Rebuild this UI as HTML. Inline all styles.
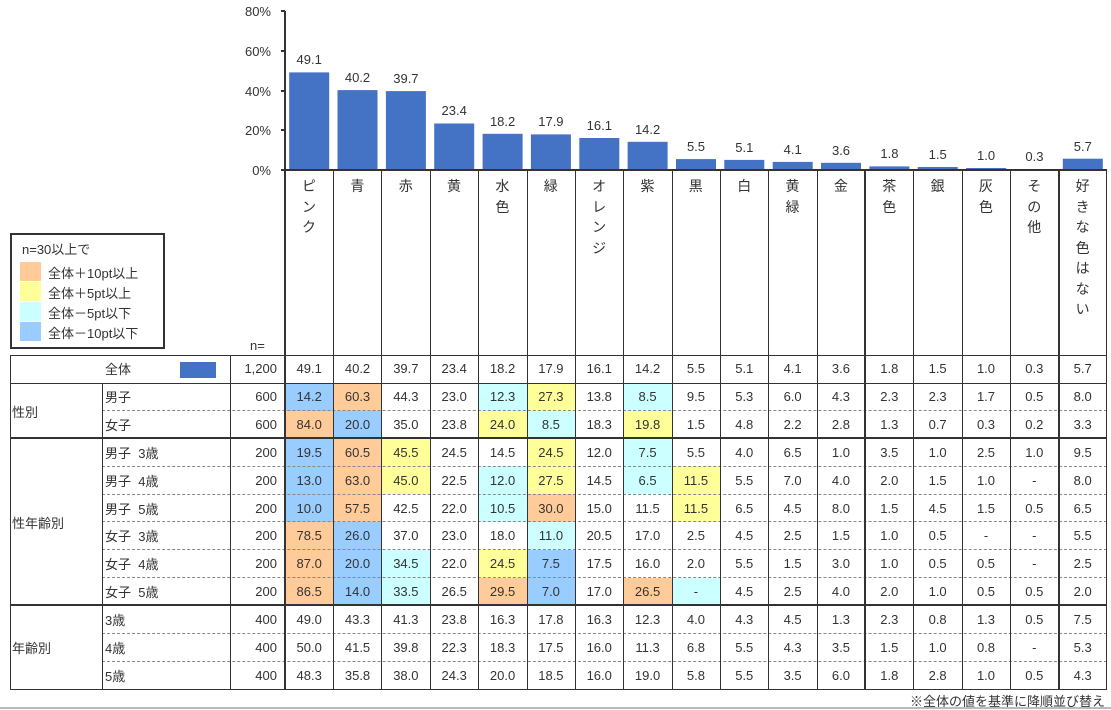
<!DOCTYPE html>
<html><head><meta charset="utf-8"><style>
*{margin:0;padding:0;box-sizing:border-box}
body{width:1111px;height:709px;background:#fff;position:relative;overflow:hidden;font-family:"Liberation Sans","Noto Sans CJK JP",sans-serif;color:#333;font-size:13px}
.a{position:absolute}
#g{position:absolute;left:10px;top:355px;display:grid;grid-template-columns:92px 128px 55px repeat(17,48.35px);grid-auto-rows:27.83px}
#g div{display:flex;align-items:center;justify-content:center}
#g .l{grid-column:2;justify-content:flex-start;padding-left:3px}
#g .n{justify-content:flex-end;padding-right:8px}
.o{background:#FFCC99}.y{background:#FFFF99}.c{background:#CCFFFF}.b{background:#99CCFF}
.vl{position:absolute;font-size:14px;line-height:20.5px;text-align:center;width:48px;top:176px}
.h{position:absolute;height:0;border-top:1px solid #333}
.d{position:absolute;height:0;border-top:1px dashed #888;left:102px;width:1005px}
.v{position:absolute;width:1px;background:#333}
</style></head><body>
<svg class="a" style="left:0;top:0" width="1111" height="200" font-family="Liberation Sans, sans-serif" font-size="13" fill="#333">
<g text-anchor="end"><text x="271" y="16">80%</text><text x="271" y="56">60%</text><text x="271" y="96">40%</text><text x="271" y="135">20%</text><text x="271" y="175">0%</text></g>
<g fill="#4472C4">
<rect x="289.2" y="72.4" width="40" height="97.6"/><rect x="337.5" y="90.1" width="40" height="79.9"/><rect x="385.9" y="91.1" width="40" height="78.9"/><rect x="434.2" y="123.5" width="40" height="46.5"/><rect x="482.6" y="133.8" width="40" height="36.2"/><rect x="530.9" y="134.4" width="40" height="35.6"/><rect x="579.3" y="138" width="40" height="32"/><rect x="627.6" y="141.8" width="40" height="28.2"/><rect x="676" y="159.1" width="40" height="10.9"/><rect x="724.3" y="159.9" width="40" height="10.1"/><rect x="772.7" y="161.9" width="40" height="8.1"/><rect x="821" y="162.8" width="40" height="7.2"/><rect x="869.4" y="166.4" width="40" height="3.6"/><rect x="917.7" y="167" width="40" height="3"/><rect x="966.1" y="168" width="40" height="2"/><rect x="1014.4" y="169.4" width="40" height="0.6"/><rect x="1062.8" y="158.7" width="40" height="11.3"/></g>
<g text-anchor="middle"><text x="309.2" y="64">49.1</text><text x="357.5" y="82">40.2</text><text x="405.9" y="83">39.7</text><text x="454.2" y="115">23.4</text><text x="502.6" y="126">18.2</text><text x="550.9" y="126">17.9</text><text x="599.3" y="130">16.1</text><text x="647.6" y="134">14.2</text><text x="696" y="151">5.5</text><text x="744.3" y="152">5.1</text><text x="792.7" y="154">4.1</text><text x="841" y="155">3.6</text><text x="889.4" y="158">1.8</text><text x="937.7" y="159">1.5</text><text x="986.1" y="160">1.0</text><text x="1034.4" y="161">0.3</text><text x="1082.8" y="151">5.7</text></g>
<rect x="284" y="11" width="2" height="160" fill="#333"/>
<g fill="#333"><rect x="281" y="10" width="4" height="2"/><rect x="281" y="50" width="4" height="2"/><rect x="281" y="90" width="4" height="2"/><rect x="281" y="129" width="4" height="2"/><rect x="281" y="169" width="826" height="2"/></g>
</svg>
<div class="vl" style="left:285px">ピ<br>ン<br>ク</div><div class="vl" style="left:333.4px">青</div><div class="vl" style="left:381.7px">赤</div><div class="vl" style="left:430px">黄</div><div class="vl" style="left:478.4px">水<br>色</div><div class="vl" style="left:526.8px">緑</div><div class="vl" style="left:575.1px">オ<br>レ<br>ン<br>ジ</div><div class="vl" style="left:623.5px">紫</div><div class="vl" style="left:671.8px">黒</div><div class="vl" style="left:720.2px">白</div><div class="vl" style="left:768.5px">黄<br>緑</div><div class="vl" style="left:816.9px">金</div><div class="vl" style="left:865.2px">茶<br>色</div><div class="vl" style="left:913.6px">銀</div><div class="vl" style="left:961.9px">灰<br>色</div><div class="vl" style="left:1010.3px">そ<br>の<br>他</div><div class="vl" style="left:1058.6px">好<br>き<br>な<br>色<br>は<br>な<br>い</div>
<div class="a" style="left:10px;top:233px;width:155px;height:116px;border:2px solid #333"></div>
<div class="a" style="left:22px;top:239px">n=30以上で</div>
<div class="a o" style="left:20px;top:262px;width:21px;height:19px"></div><div class="a" style="left:48px;top:263px">全体＋10pt以上</div>
<div class="a y" style="left:20px;top:282px;width:21px;height:19px"></div><div class="a" style="left:48px;top:283px">全体＋5pt以上</div>
<div class="a c" style="left:20px;top:302px;width:21px;height:19px"></div><div class="a" style="left:48px;top:303px">全体－5pt以下</div>
<div class="a b" style="left:20px;top:322px;width:21px;height:19px"></div><div class="a" style="left:48px;top:323px">全体－10pt以下</div>
<div class="a" style="left:250px;top:338px">n=</div>
<div id="g">
<div class="l">全体</div><div class="n">1,200</div><div>49.1</div><div>40.2</div><div>39.7</div><div>23.4</div><div>18.2</div><div>17.9</div><div>16.1</div><div>14.2</div><div>5.5</div><div>5.1</div><div>4.1</div><div>3.6</div><div>1.8</div><div>1.5</div><div>1.0</div><div>0.3</div><div>5.7</div>
<div class="l">男子</div><div class="n">600</div><div class="b">14.2</div><div class="o">60.3</div><div>44.3</div><div>23.0</div><div class="c">12.3</div><div class="y">27.3</div><div>13.8</div><div class="c">8.5</div><div>9.5</div><div>5.3</div><div>6.0</div><div>4.3</div><div>2.3</div><div>2.3</div><div>1.7</div><div>0.5</div><div>8.0</div>
<div class="l">女子</div><div class="n">600</div><div class="o">84.0</div><div class="b">20.0</div><div>35.0</div><div>23.8</div><div class="y">24.0</div><div class="c">8.5</div><div>18.3</div><div class="y">19.8</div><div>1.5</div><div>4.8</div><div>2.2</div><div>2.8</div><div>1.3</div><div>0.7</div><div>0.3</div><div>0.2</div><div>3.3</div>
<div class="l">男子&nbsp;&nbsp;3歳</div><div class="n">200</div><div class="b">19.5</div><div class="o">60.5</div><div class="y">45.5</div><div>24.5</div><div>14.5</div><div class="y">24.5</div><div>12.0</div><div class="c">7.5</div><div>5.5</div><div>4.0</div><div>6.5</div><div>1.0</div><div>3.5</div><div>1.0</div><div>2.5</div><div>1.0</div><div>9.5</div>
<div class="l">男子&nbsp;&nbsp;4歳</div><div class="n">200</div><div class="b">13.0</div><div class="o">63.0</div><div class="y">45.0</div><div>22.5</div><div class="c">12.0</div><div class="y">27.5</div><div>14.5</div><div class="c">6.5</div><div class="y">11.5</div><div>5.5</div><div>7.0</div><div>4.0</div><div>2.0</div><div>1.5</div><div>1.0</div><div>-</div><div>8.0</div>
<div class="l">男子&nbsp;&nbsp;5歳</div><div class="n">200</div><div class="b">10.0</div><div class="o">57.5</div><div>42.5</div><div>22.0</div><div class="c">10.5</div><div class="o">30.0</div><div>15.0</div><div>11.5</div><div class="y">11.5</div><div>6.5</div><div>4.5</div><div>8.0</div><div>1.5</div><div>4.5</div><div>1.5</div><div>0.5</div><div>6.5</div>
<div class="l">女子&nbsp;&nbsp;3歳</div><div class="n">200</div><div class="o">78.5</div><div class="b">26.0</div><div>37.0</div><div>23.0</div><div>18.0</div><div class="c">11.0</div><div>20.5</div><div>17.0</div><div>2.5</div><div>4.5</div><div>2.5</div><div>1.5</div><div>1.0</div><div>0.5</div><div>-</div><div>-</div><div>5.5</div>
<div class="l">女子&nbsp;&nbsp;4歳</div><div class="n">200</div><div class="o">87.0</div><div class="b">20.0</div><div class="c">34.5</div><div>22.0</div><div class="y">24.5</div><div class="b">7.5</div><div>17.5</div><div>16.0</div><div>2.0</div><div>5.5</div><div>1.5</div><div>3.0</div><div>1.0</div><div>0.5</div><div>0.5</div><div>-</div><div>2.5</div>
<div class="l">女子&nbsp;&nbsp;5歳</div><div class="n">200</div><div class="o">86.5</div><div class="b">14.0</div><div class="c">33.5</div><div>26.5</div><div class="o">29.5</div><div class="b">7.0</div><div>17.0</div><div class="o">26.5</div><div class="c">-</div><div>4.5</div><div>2.5</div><div>4.0</div><div>2.0</div><div>1.0</div><div>0.5</div><div>0.5</div><div>2.0</div>
<div class="l">3歳</div><div class="n">400</div><div>49.0</div><div>43.3</div><div>41.3</div><div>23.8</div><div>16.3</div><div>17.8</div><div>16.3</div><div>12.3</div><div>4.0</div><div>4.3</div><div>4.5</div><div>1.3</div><div>2.3</div><div>0.8</div><div>1.3</div><div>0.5</div><div>7.5</div>
<div class="l">4歳</div><div class="n">400</div><div>50.0</div><div>41.5</div><div>39.8</div><div>22.3</div><div>18.3</div><div>17.5</div><div>16.0</div><div>11.3</div><div>6.8</div><div>5.5</div><div>4.3</div><div>3.5</div><div>1.5</div><div>1.0</div><div>0.8</div><div>-</div><div>5.3</div>
<div class="l">5歳</div><div class="n">400</div><div>48.3</div><div>35.8</div><div>38.0</div><div>24.3</div><div>20.0</div><div>18.5</div><div>16.0</div><div>19.0</div><div>5.8</div><div>5.5</div><div>3.5</div><div>6.0</div><div>1.8</div><div>2.8</div><div>1.0</div><div>0.5</div><div>4.3</div>
</div>
<div class="a" style="left:180px;top:362px;width:36px;height:16px;background:#4472C4"></div>
<div class="a" style="left:12px;top:402px">性別</div>
<div class="a" style="left:12px;top:513px">性年齢別</div>
<div class="a" style="left:12px;top:638px">年齢別</div>
<!-- horizontal lines -->
<div class="h" style="left:10px;width:1097px;top:355px"></div>
<div class="h" style="left:10px;width:1097px;top:383px"></div>
<div class="d" style="top:410px"></div>
<div class="h" style="left:10px;width:1097px;top:437px;border-top-width:2px"></div>
<div class="d" style="top:466px"></div><div class="d" style="top:494px"></div><div class="d" style="top:521px"></div><div class="d" style="top:549px"></div><div class="d" style="top:577px"></div>
<div class="h" style="left:10px;width:1097px;top:604px;border-top-width:2px"></div>
<div class="d" style="top:633px"></div><div class="d" style="top:661px"></div>
<div class="h" style="left:10px;width:1097px;top:689px"></div>
<!-- vertical lines -->
<div class="v" style="left:10px;top:355px;height:335px"></div>
<div class="v" style="left:102px;top:383px;height:307px"></div>
<div class="v" style="left:230px;top:355px;height:335px"></div>
<div class="v" style="left:284px;top:170px;height:520px;width:2px"></div>
<div class="v" style="left:333px;top:170px;height:520px"></div><div class="v" style="left:381px;top:170px;height:520px"></div><div class="v" style="left:430px;top:170px;height:520px"></div><div class="v" style="left:478px;top:170px;height:520px"></div><div class="v" style="left:527px;top:170px;height:520px"></div><div class="v" style="left:575px;top:170px;height:520px"></div><div class="v" style="left:623px;top:170px;height:520px"></div><div class="v" style="left:672px;top:170px;height:520px"></div><div class="v" style="left:720px;top:170px;height:520px"></div><div class="v" style="left:768px;top:170px;height:520px"></div><div class="v" style="left:817px;top:170px;height:520px"></div>
<div class="v" style="left:864px;top:170px;height:520px;width:2px"></div>
<div class="v" style="left:913px;top:170px;height:520px"></div><div class="v" style="left:962px;top:170px;height:520px"></div><div class="v" style="left:1010px;top:170px;height:520px"></div>
<div class="v" style="left:1058px;top:170px;height:520px;width:2px"></div>
<div class="v" style="left:1106px;top:170px;height:520px"></div>
<div class="a" style="right:6px;top:691px;font-size:13px">※全体の値を基準に降順並び替え</div>
<div class="a" style="left:0;top:707px;width:1111px;height:2px;background:#bbb"></div>
</body></html>
